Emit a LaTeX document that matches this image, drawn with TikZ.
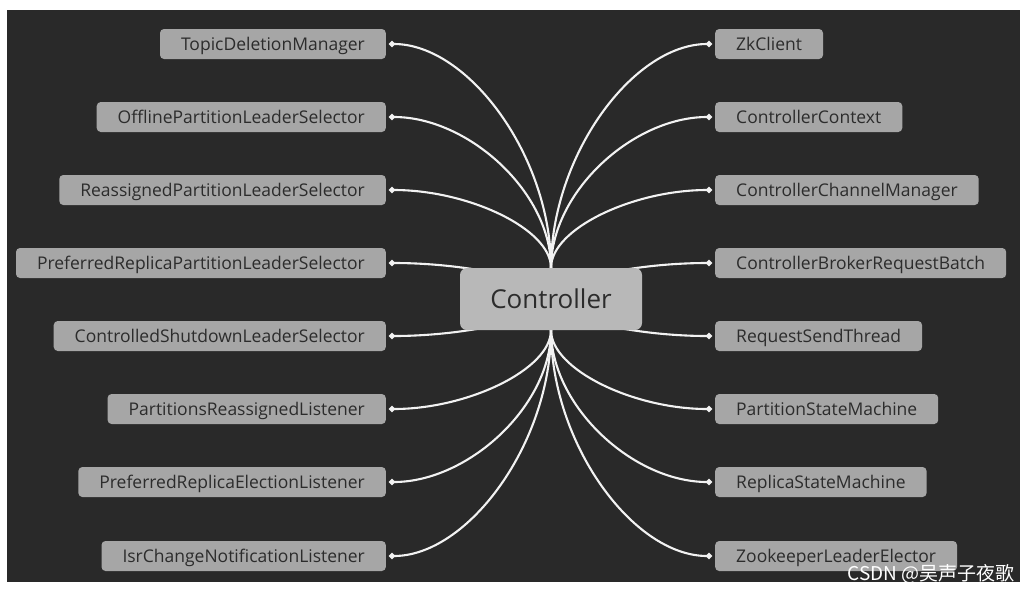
\documentclass[tikz,border=0pt]{standalone}
\usepackage{fontspec}
\setmainfont{Open Sans}
\newfontfamily\cjkfont{Noto Sans CJK SC}
\usetikzlibrary{arrows.meta,positioning}
\definecolor{canvasdark}{HTML}{292929}
\definecolor{boxgray}{HTML}{A6A6A6}
\definecolor{hubgray}{HTML}{B8B8B8}
\definecolor{labelink}{HTML}{2C2C2C}
\definecolor{linkwhite}{HTML}{F2F2F2}
\pgfdeclarelayer{canvas}
\pgfdeclarelayer{links}
\pgfsetlayers{canvas,links,main}
\tikzset{
  classbox/.style={
    fill=boxgray,
    rounded corners=4pt,
    text=labelink,
    inner xsep=21pt,
    inner ysep=0pt,
    text height=13pt,
    text depth=0.5pt,
    minimum height=30pt,
    font=\fontsize{17.5}{20}\selectfont
  },
  hubbox/.style={
    fill=hubgray,
    rounded corners=7pt,
    text=labelink,
    minimum width=182pt,
    minimum height=62pt,
    font=\fontsize{26}{30}\selectfont
  },
  linkarrow/.style={{Circle[length=6pt]}-, line width=2.1pt, draw=linkwhite}
}

\begin{document}
\begin{tikzpicture}[x=1pt, y=-1pt]
\useasboundingbox (0,0) rectangle (1032,592);
\begin{pgfonlayer}{canvas}
\fill[white] (0,0) rectangle (1032,592);
\fill[canvasdark] (7,10) rectangle (1020,582);
\end{pgfonlayer}

\node[hubbox] (ctrl) at (551,299) {Controller};

% left column, right aligned
\node[classbox, anchor=east] (topicdel) at (386,44) {TopicDeletionManager};
\node[classbox, anchor=east] (offline) at (386,117) {OfflinePartitionLeaderSelector};
\node[classbox, anchor=east] (reassigned) at (386,190) {ReassignedPartitionLeaderSelector};
\node[classbox, anchor=east] (prefsel) at (386,263) {PreferredReplicaPartitionLeaderSelector};
\node[classbox, anchor=east] (shutdown) at (386,336) {ControlledShutdownLeaderSelector};
\node[classbox, anchor=east] (reassignlst) at (386,409) {PartitionsReassignedListener};
\node[classbox, anchor=east] (electlst) at (386,482) {PreferredReplicaElectionListener};
\node[classbox, anchor=east] (isrlst) at (386,556) {IsrChangeNotificationListener};

% right column, left aligned
\node[classbox, anchor=west] (zkclient) at (715,44) {ZkClient};
\node[classbox, anchor=west] (context) at (715,117) {ControllerContext};
\node[classbox, anchor=west] (channel) at (715,190) {ControllerChannelManager};
\node[classbox, anchor=west] (batch) at (715,263) {ControllerBrokerRequestBatch};
\node[classbox, anchor=west] (sendthread) at (715,336) {RequestSendThread};
\node[classbox, anchor=west] (partsm) at (715,409) {PartitionStateMachine};
\node[classbox, anchor=west] (replsm) at (715,482) {ReplicaStateMachine};
\node[classbox, anchor=west] (elector) at (715,556) {ZookeeperLeaderElector};

\node[font=\cjkfont\fontsize{19}{21}\selectfont, text=white, inner sep=0pt, anchor=base east] (mark) at (1015,580) {CSDN @吴声子夜歌};

\begin{pgfonlayer}{links}
\foreach \n/\a/\b in {topicdel/north/-112,offline/north/-76,reassigned/north/-39,prefsel/center/-18,shutdown/center/18,reassignlst/south/39,electlst/south/76,isrlst/south/113}
  \draw[linkarrow] ([xshift=3pt]\n.east) .. controls +(79,0) and +(0,\b) .. (ctrl.\a);
\foreach \n/\a/\b in {zkclient/north/-112,context/north/-76,channel/north/-39,batch/center/-18,sendthread/center/18,partsm/south/39,replsm/south/76,elector/south/113}
  \draw[linkarrow] ([xshift=-3pt]\n.west) .. controls +(-79,0) and +(0,\b) .. (ctrl.\a);
\end{pgfonlayer}
\end{tikzpicture}
\end{document}
